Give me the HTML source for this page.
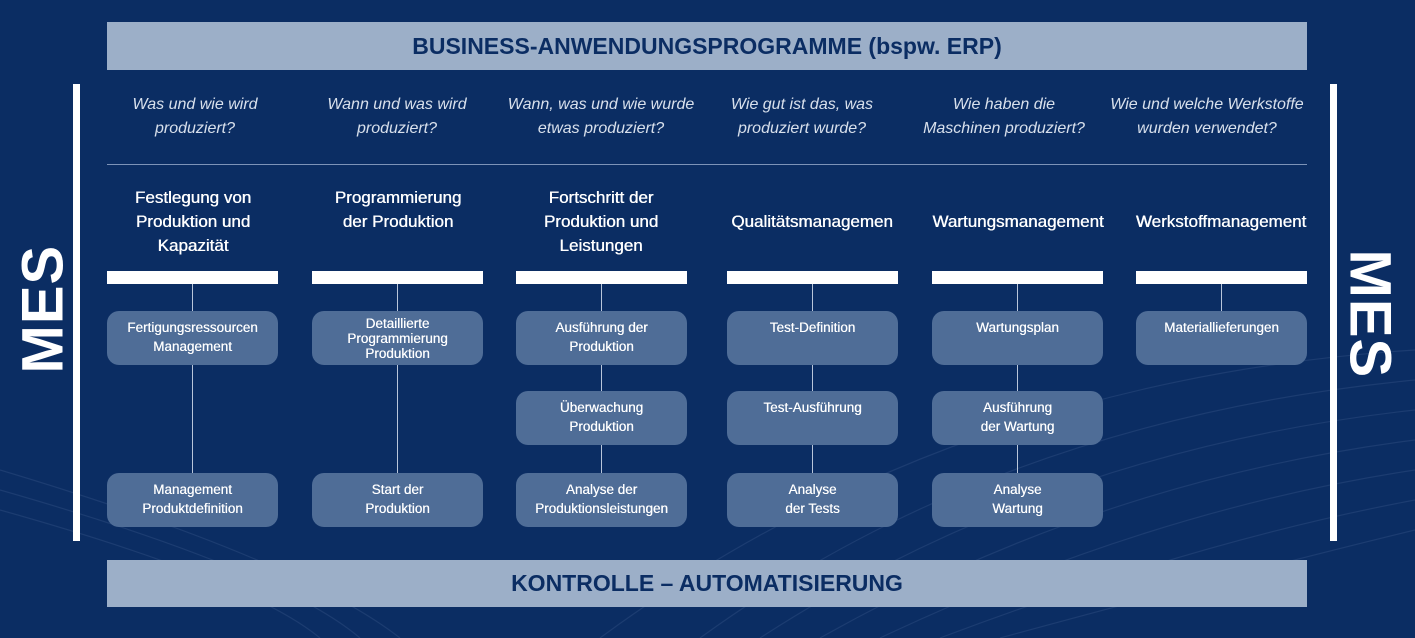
<!DOCTYPE html>
<html><head><meta charset="utf-8"><style>
*{margin:0;padding:0;box-sizing:border-box}
body{width:1415px;height:638px;background:#0b2d63;position:relative;overflow:hidden;font-family:"Liberation Sans",sans-serif;color:#fff}
.a{position:absolute}
.bar{background:#9cafc8;color:#0b2d63;font-size:23px;text-align:center;font-weight:bold}
.q{font-style:italic;font-size:16px;line-height:24px;text-align:center;color:#d8e0ec;width:200px}
.h{font-size:17px;line-height:24px;text-align:center;width:200px;top:186px;text-shadow:0.4px 0 0 #fff}
.wb{background:#fff;height:13px;top:271px;width:171px}
.box{background:#4f6d97;border-radius:12px;width:171px;height:54px;font-size:13.5px;line-height:19px;text-align:center;padding-top:7px;text-shadow:0.3px 0 0 #fff}
.v{width:1px;background:#b9c6da}
.mes{font-size:58px;font-weight:bold;letter-spacing:1px}
</style></head><body>
<svg class="a" style="left:0;top:0" width="1415" height="638">
<g fill="none" stroke="#6a86b0" stroke-opacity="0.18" stroke-width="1.2">
<path d="M0 470 Q300 560 400 638"/><path d="M0 490 Q280 570 360 638"/><path d="M0 510 Q250 580 320 638"/>
<path d="M700 638 Q1000 420 1415 380"/><path d="M760 638 Q1050 450 1415 410"/><path d="M820 638 Q1100 480 1415 440"/><path d="M880 638 Q1150 510 1415 470"/><path d="M940 638 Q1200 540 1415 500"/><path d="M1000 638 Q1250 570 1415 530"/><path d="M600 638 Q950 380 1415 350"/>
</g></svg>
<div class="a bar" style="left:107px;top:22px;width:1200px;height:48px;line-height:48px">BUSINESS-ANWENDUNGSPROGRAMME (bspw. ERP)</div>
<div class="a bar" style="left:107px;top:560px;width:1200px;height:47px;line-height:47px">KONTROLLE – AUTOMATISIERUNG</div>
<div class="a" style="left:73px;top:84px;width:7px;height:457px;background:#fff"></div>
<div class="a" style="left:1330px;top:84px;width:7px;height:457px;background:#fff"></div>
<div class="a mes" style="left:-17px;top:280px;width:120px;text-align:center;transform:rotate(-90deg)">MES</div>
<div class="a mes" style="left:1310px;top:276px;width:120px;text-align:center;transform:rotate(90deg)">MES</div>
<div class="a" style="left:107px;top:164px;width:1200px;height:1px;background:#7d93b8"></div>

<div class="a q" style="left:95px;top:93px">Was und wie wird<br>produziert?</div>
<div class="a q" style="left:297px;top:93px">Wann und was wird<br>produziert?</div>
<div class="a q" style="left:491px;top:93px;width:220px">Wann, was und wie wurde<br>etwas produziert?</div>
<div class="a q" style="left:702px;top:93px">Wie gut ist das, was<br>produziert wurde?</div>
<div class="a q" style="left:904px;top:93px">Wie haben die<br>Maschinen produziert?</div>
<div class="a q" style="left:1097px;top:93px;width:220px">Wie und welche Werkstoffe<br>wurden verwendet?</div>

<div class="a h" style="left:93px">Festlegung von<br>Produktion und<br>Kapazität</div>
<div class="a h" style="left:298px">Programmierung<br>der Produktion</div>
<div class="a h" style="left:501px">Fortschritt der<br>Produktion und<br>Leistungen</div>
<div class="a h" style="left:712px;top:210px">Qualitätsmanagemen</div>
<div class="a h" style="left:918px;top:210px">Wartungsmanagement</div>
<div class="a h" style="left:1121px;top:210px">Werkstoffmanagement</div>

<div class="a wb" style="left:107px"></div><div class="a wb" style="left:312px"></div><div class="a wb" style="left:516px"></div><div class="a wb" style="left:727px"></div><div class="a wb" style="left:932px"></div><div class="a wb" style="left:1136px"></div>

<div class="a v" style="left:192px;top:284px;height:190px"></div>
<div class="a v" style="left:397px;top:284px;height:190px"></div>
<div class="a v" style="left:601px;top:284px;height:190px"></div>
<div class="a v" style="left:812px;top:284px;height:190px"></div>
<div class="a v" style="left:1017px;top:284px;height:190px"></div>
<div class="a v" style="left:1221px;top:284px;height:28px"></div>

<div class="a box" style="left:107px;top:311px">Fertigungsressourcen<br>Management</div>
<div class="a box" style="left:107px;top:473px">Management<br>Produktdefinition</div>
<div class="a box" style="left:312px;top:311px;line-height:15px;padding-top:5px">Detaillierte<br>Programmierung<br>Produktion</div>
<div class="a box" style="left:312px;top:473px">Start der<br>Produktion</div>
<div class="a box" style="left:516px;top:311px">Ausführung der<br>Produktion</div>
<div class="a box" style="left:516px;top:391px">Überwachung<br>Produktion</div>
<div class="a box" style="left:516px;top:473px">Analyse der<br>Produktionsleistungen</div>
<div class="a box" style="left:727px;top:311px">Test-Definition</div>
<div class="a box" style="left:727px;top:391px">Test-Ausführung</div>
<div class="a box" style="left:727px;top:473px">Analyse<br>der Tests</div>
<div class="a box" style="left:932px;top:311px">Wartungsplan</div>
<div class="a box" style="left:932px;top:391px">Ausführung<br>der Wartung</div>
<div class="a box" style="left:932px;top:473px">Analyse<br>Wartung</div>
<div class="a box" style="left:1136px;top:311px">Materiallieferungen</div>
</body></html>
